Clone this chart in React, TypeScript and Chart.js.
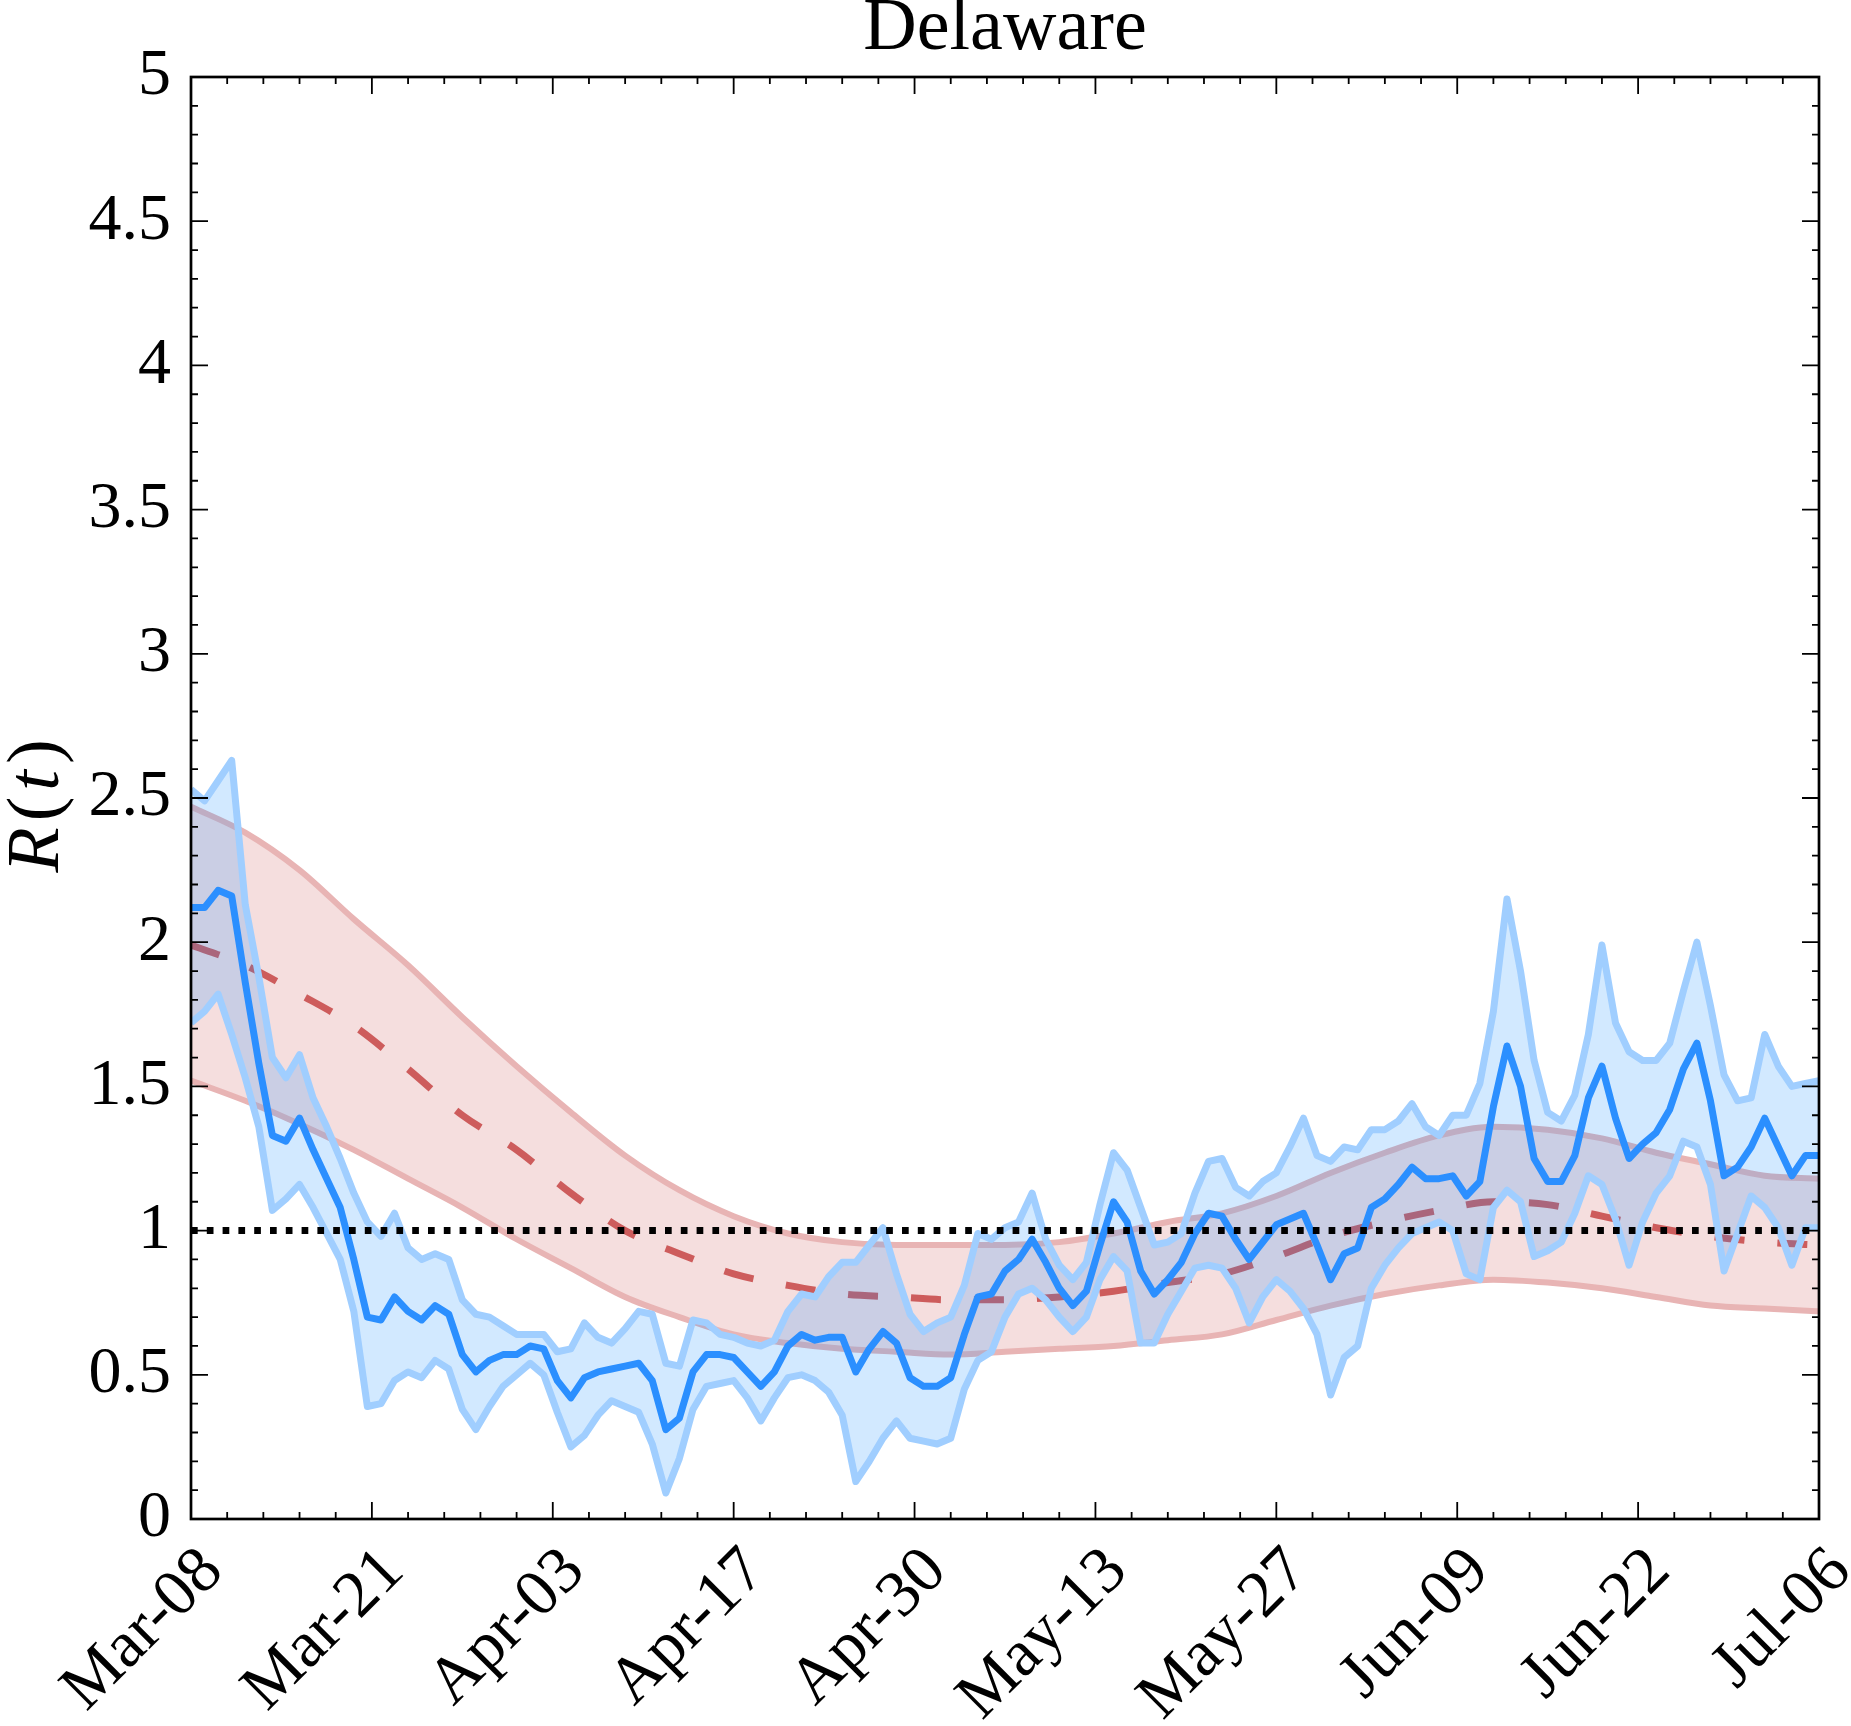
import React, { useEffect, useRef } from "react";
import { Chart, registerables } from "chart.js";

Chart.register(...registerables);

const TITLE = "Delaware";
const X_TICK_LABELS = ["Mar-08", "Mar-21", "Apr-03", "Apr-17", "Apr-30", "May-13", "May-27", "Jun-09", "Jun-22", "Jul-06"];
const DAY_SPAN = 120;
const Y_TICKS = [0, 0.5, 1, 1.5, 2, 2.5, 3, 3.5, 4, 4.5, 5];
const THRESHOLD = 1;

// daily estimates, day 0 = Mar-08 ... day 120 = Jul-06
const BLUE_MEAN = [
  2.12, 2.12, 2.18, 2.16, 1.86, 1.58, 1.33, 1.31, 1.39, 1.28,
  1.18, 1.08, 0.90, 0.70, 0.69, 0.77, 0.72, 0.69, 0.74, 0.71,
  0.57, 0.51, 0.55, 0.57, 0.57, 0.60, 0.59, 0.48, 0.42, 0.49,
  0.51, 0.52, 0.53, 0.54, 0.48, 0.31, 0.35, 0.51, 0.57, 0.57,
  0.56, 0.51, 0.46, 0.51, 0.60, 0.64, 0.62, 0.63, 0.63, 0.51,
  0.59, 0.65, 0.61, 0.49, 0.46, 0.46, 0.49, 0.64, 0.77, 0.78,
  0.86, 0.90, 0.97, 0.89, 0.80, 0.74, 0.79, 0.95, 1.10, 1.03,
  0.86, 0.78, 0.83, 0.89, 0.99, 1.06, 1.05, 0.97, 0.90, 0.96,
  1.02, 1.04, 1.06, 0.95, 0.83, 0.92, 0.94, 1.08, 1.11, 1.16,
  1.22, 1.18, 1.18, 1.19, 1.12, 1.17, 1.43, 1.64, 1.50, 1.25,
  1.17, 1.17, 1.26, 1.46, 1.57, 1.39, 1.25, 1.30, 1.34, 1.42,
  1.56, 1.65, 1.45, 1.19, 1.22, 1.29, 1.39, 1.29, 1.19, 1.26,
  1.26,
];

const BLUE_UPPER = [
  2.53, 2.49, 2.56, 2.63, 2.13, 1.88, 1.60, 1.53, 1.61, 1.46,
  1.36, 1.25, 1.13, 1.03, 0.98, 1.06, 0.94, 0.90, 0.92, 0.90,
  0.76, 0.71, 0.70, 0.67, 0.64, 0.64, 0.64, 0.58, 0.59, 0.68,
  0.63, 0.61, 0.66, 0.72, 0.71, 0.54, 0.53, 0.69, 0.68, 0.64,
  0.63, 0.61, 0.60, 0.62, 0.72, 0.78, 0.77, 0.84, 0.89, 0.89,
  0.95, 1.01, 0.85, 0.71, 0.65, 0.68, 0.70, 0.81, 0.99, 0.97,
  1.01, 1.03, 1.13, 0.97, 0.88, 0.83, 0.89, 1.09, 1.27, 1.21,
  1.08, 0.95, 0.96, 0.99, 1.13, 1.24, 1.25, 1.15, 1.12, 1.17,
  1.20, 1.29, 1.39, 1.26, 1.24, 1.29, 1.28, 1.35, 1.35, 1.38,
  1.44, 1.36, 1.33, 1.40, 1.40, 1.51, 1.76, 2.15, 1.90, 1.59,
  1.41, 1.38, 1.47, 1.68, 1.99, 1.72, 1.62, 1.59, 1.59, 1.65,
  1.83, 2.00, 1.78, 1.54, 1.45, 1.46, 1.68, 1.57, 1.50, 1.51,
  1.52,
];

const BLUE_LOWER = [
  1.72, 1.76, 1.82, 1.68, 1.53, 1.36, 1.07, 1.11, 1.16, 1.08,
  0.99, 0.90, 0.72, 0.39, 0.40, 0.48, 0.51, 0.49, 0.55, 0.52,
  0.38, 0.31, 0.39, 0.46, 0.50, 0.54, 0.50, 0.37, 0.25, 0.29,
  0.36, 0.41, 0.39, 0.37, 0.26, 0.09, 0.21, 0.38, 0.46, 0.47,
  0.48, 0.42, 0.34, 0.42, 0.49, 0.50, 0.48, 0.44, 0.36, 0.13,
  0.20, 0.28, 0.34, 0.28, 0.27, 0.26, 0.28, 0.45, 0.55, 0.58,
  0.70, 0.78, 0.80, 0.76, 0.70, 0.65, 0.70, 0.83, 0.91, 0.86,
  0.61, 0.61, 0.71, 0.79, 0.87, 0.88, 0.87, 0.80, 0.68, 0.77,
  0.83, 0.79, 0.73, 0.64, 0.43, 0.56, 0.60, 0.80, 0.88, 0.94,
  0.99, 1.01, 1.03, 1.00, 0.85, 0.83, 1.08, 1.14, 1.10, 0.91,
  0.93, 0.96, 1.06, 1.19, 1.16, 1.04, 0.88, 1.03, 1.13, 1.19,
  1.31, 1.29, 1.16, 0.86, 0.99, 1.12, 1.08, 1.01, 0.88, 1.01,
  1.01,
];

// smooth model band, read every 4 days
const RED_DAYS = [0, 4, 8, 12, 16, 20, 24, 28, 32, 36, 40, 44, 48, 52, 56, 60, 64, 68, 72, 76, 80, 84, 88, 92, 96, 100, 104, 108, 112, 116, 120];
const RED_UPPER = [2.47, 2.38, 2.25, 2.08, 1.92, 1.74, 1.57, 1.41, 1.26, 1.14, 1.05, 0.99, 0.96, 0.95, 0.95, 0.95, 0.96, 0.99, 1.03, 1.06, 1.12, 1.20, 1.27, 1.33, 1.36, 1.35, 1.32, 1.27, 1.23, 1.19, 1.18];
const RED_MEDIAN = [1.99, 1.92, 1.82, 1.71, 1.56, 1.40, 1.28, 1.13, 1.00, 0.92, 0.85, 0.81, 0.78, 0.77, 0.76, 0.76, 0.77, 0.79, 0.82, 0.85, 0.91, 0.98, 1.03, 1.07, 1.10, 1.09, 1.05, 1.01, 0.98, 0.96, 0.95];
const RED_LOWER = [1.52, 1.45, 1.37, 1.28, 1.18, 1.08, 0.97, 0.87, 0.77, 0.70, 0.64, 0.61, 0.59, 0.58, 0.57, 0.58, 0.59, 0.60, 0.62, 0.64, 0.69, 0.74, 0.78, 0.81, 0.83, 0.82, 0.80, 0.77, 0.74, 0.73, 0.72];

const FONT = '"Liberation Serif", "Times New Roman", serif';

const daily = (arr: number[]) => arr.map((v, i) => ({ x: i, y: v }));
const sampled = (days: number[], arr: number[]) => arr.map((v, i) => ({ x: days[i], y: v }));

const frameAndTextPlugin = {
  id: "frameAndText",
  afterDatasetsDraw(chart: any) {
    const { ctx, chartArea, scales } = chart;
    const { left, right, top, bottom } = chartArea;
    const xs = scales.x;
    const ys = scales.y;
    ctx.save();
    ctx.strokeStyle = "#000";
    ctx.lineWidth = 1.8;
    ctx.beginPath();
    const yMax = Y_TICKS[Y_TICKS.length - 1];
    const yMinorCount = Math.round(yMax / 0.1);
    for (let i = 0; i <= yMinorCount; i++) {
      const py = ys.getPixelForValue(i * 0.1);
      const len = i % 5 === 0 ? 17 : 7;
      ctx.moveTo(left, py);
      ctx.lineTo(left + len, py);
      ctx.moveTo(right, py);
      ctx.lineTo(right - len, py);
    }
    const xMinorCount = (X_TICK_LABELS.length - 1) * 5;
    for (let i = 0; i <= xMinorCount; i++) {
      const px = xs.getPixelForValue((DAY_SPAN * i) / xMinorCount);
      const len = i % 5 === 0 ? 17 : 7;
      ctx.moveTo(px, bottom);
      ctx.lineTo(px, bottom - len);
      ctx.moveTo(px, top);
      ctx.lineTo(px, top + len);
    }
    ctx.stroke();
    ctx.lineWidth = 2.7;
    ctx.strokeRect(left, top, right - left, bottom - top);

    // title
    ctx.fillStyle = "#000";
    ctx.font = `74px ${FONT}`;
    ctx.textAlign = "center";
    ctx.textBaseline = "alphabetic";
    ctx.fillText(TITLE, (left + right) / 2, 49);

    // y label R(t)
    const parts = [
      { t: "R", it: true },
      { t: "(", it: false },
      { t: "t", it: true },
      { t: ")", it: false },
    ];
    const size = 74;
    let total = 0;
    const widths = parts.map((p) => {
      ctx.font = `${p.it ? "italic " : ""}${size}px ${FONT}`;
      const w = ctx.measureText(p.t).width + 6;
      total += w;
      return w;
    });
    ctx.translate(58, (top + bottom) / 2 + 5);
    ctx.rotate(-Math.PI / 2);
    ctx.textAlign = "left";
    let cx = -total / 2;
    parts.forEach((p, i) => {
      ctx.font = `${p.it ? "italic " : ""}${size}px ${FONT}`;
      ctx.fillText(p.t, cx, 0);
      cx += widths[i];
    });
    ctx.restore();
  },
};

export default function App() {
  const canvasRef = useRef<HTMLCanvasElement | null>(null);

  useEffect(() => {
    const canvas = canvasRef.current;
    if (!canvas) return;

    const chart = new Chart(canvas, {
      type: "line",
      data: {
        datasets: [
          {
            // 0: mean line
            data: daily(BLUE_MEAN),
            borderColor: "#2B8FFF",
            borderWidth: 7,
            fill: false,
            pointRadius: 0,
            tension: 0,
            borderJoinStyle: "round",
            order: 1,
          },
          {
            // 1: lower bound line
            data: daily(BLUE_LOWER),
            borderColor: "#A0CEFF",
            borderWidth: 7,
            fill: false,
            pointRadius: 0,
            tension: 0,
            borderJoinStyle: "round",
            order: 2,
          },
          {
            // 2: upper bound line
            data: daily(BLUE_UPPER),
            borderColor: "#A0CEFF",
            borderWidth: 7,
            fill: false,
            pointRadius: 0,
            tension: 0,
            borderJoinStyle: "round",
            order: 3,
          },
          {
            // 3: blue band fill
            data: daily(BLUE_UPPER),
            borderWidth: 0,
            borderColor: "rgba(0,0,0,0)",
            backgroundColor: "rgba(30,144,255,0.2)",
            fill: 1,
            pointRadius: 0,
            tension: 0,
            order: 4,
          },
          {
            // 4: model median
            data: sampled(RED_DAYS, RED_MEDIAN),
            borderColor: "#CD5C5C",
            borderWidth: 7,
            borderDash: [30, 33],
            fill: false,
            pointRadius: 0,
            cubicInterpolationMode: "monotone",
            order: 5,
          },
          {
            // 5: model lower
            data: sampled(RED_DAYS, RED_LOWER),
            borderColor: "#E8B4B4",
            borderWidth: 6,
            fill: false,
            pointRadius: 0,
            cubicInterpolationMode: "monotone",
            order: 6,
          },
          {
            // 6: model upper + band fill
            data: sampled(RED_DAYS, RED_UPPER),
            borderColor: "#E8B4B4",
            borderWidth: 6,
            backgroundColor: "#F5DEDE",
            fill: 5,
            pointRadius: 0,
            cubicInterpolationMode: "monotone",
            order: 7,
          },
          {
            // 7: threshold R = 1
            data: [
              { x: 0, y: THRESHOLD },
              { x: DAY_SPAN, y: THRESHOLD },
            ],
            borderColor: "#000",
            borderWidth: 7,
            borderDash: [6.7, 9.1],
            borderCapStyle: "butt",
            fill: false,
            pointRadius: 0,
            order: 0,
          },
        ],
      },
      options: {
        responsive: false,
        animation: false,
        devicePixelRatio: 1,
        layout: { padding: { top: 77, right: 32, left: 0, bottom: 0 } },
        plugins: {
          legend: { display: false },
          tooltip: { enabled: false },
          title: { display: false },
        },
        scales: {
          x: {
            type: "linear",
            min: 0,
            max: DAY_SPAN,
            grid: { display: false, drawTicks: false },
            border: { display: false },
            afterBuildTicks: (scale: any) => {
              scale.ticks = X_TICK_LABELS.map((_, i) => ({
                value: (DAY_SPAN * i) / (X_TICK_LABELS.length - 1),
              }));
            },
            afterFit: (scale: any) => {
              scale.height = 207;
              scale.paddingLeft = 0;
              scale.paddingRight = 0;
            },
            ticks: {
              autoSkip: false,
              minRotation: 45,
              maxRotation: 45,
              padding: 14,
              labelOffset: 22,
              color: "#000",
              font: { family: FONT, size: 66 },
              callback: (_v: any, i: number) => X_TICK_LABELS[i],
            },
          },
          y: {
            type: "linear",
            min: 0,
            max: 5,
            grid: { display: false, drawTicks: false },
            border: { display: false },
            afterBuildTicks: (scale: any) => {
              scale.ticks = Y_TICKS.map((v) => ({ value: v }));
            },
            afterFit: (scale: any) => {
              scale.width = 191;
              scale.paddingTop = 0;
              scale.paddingBottom = 0;
            },
            ticks: {
              padding: 20,
              color: "#000",
              font: { family: FONT, size: 66 },
              callback: (v: any) => String(v),
            },
          },
        },
      },
      plugins: [frameAndTextPlugin],
    } as any);

    return () => {
      chart.destroy();
    };
  }, []);

  return (
    <div
      style={{
        position: "absolute",
        left: 0,
        top: 0,
        width: 1851,
        height: 1726,
        background: "#fff",
      }}
    >
      <canvas ref={canvasRef} width={1851} height={1726} style={{ display: "block" }} />
    </div>
  );
}
